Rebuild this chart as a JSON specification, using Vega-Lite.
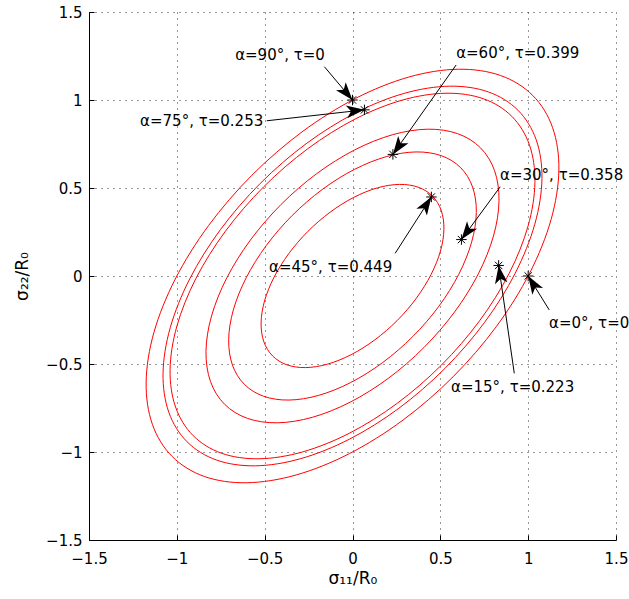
{
"$schema": "https://vega.github.io/schema/vega-lite/v6.json",
"width": 527, "height": 528,
"autosize": {"type": "none"},
"padding": {"left": 89, "top": 12, "right": 13, "bottom": 59},
"background": "white",
"config": {"view": {"stroke": null}, "font": "DejaVu Sans"},
"datasets": {
"ell": [
{"e":0,"o":0,"x":1.026,"y":1.026},{"e":0,"o":1,"x":1.1392,"y":0.8428},{"e":0,"o":2,"x":1.1748,"y":0.6022},{"e":0,"o":3,"x":1.1304,"y":0.3206},{"e":0,"o":4,"x":1.0089,"y":0.0171},{"e":0,"o":5,"x":0.8186,"y":-0.2876},{"e":0,"o":6,"x":0.5726,"y":-0.5726},{"e":0,"o":7,"x":0.2876,"y":-0.8186},{"e":0,"o":8,"x":-0.0171,"y":-1.0089},{"e":0,"o":9,"x":-0.3206,"y":-1.1304},{"e":0,"o":10,"x":-0.6022,"y":-1.1748},{"e":0,"o":11,"x":-0.8428,"y":-1.1392},{"e":0,"o":12,"x":-1.026,"y":-1.026},{"e":0,"o":13,"x":-1.1392,"y":-0.8428},{"e":0,"o":14,"x":-1.1748,"y":-0.6022},{"e":0,"o":15,"x":-1.1304,"y":-0.3206},{"e":0,"o":16,"x":-1.0089,"y":-0.0171},{"e":0,"o":17,"x":-0.8186,"y":0.2876},{"e":0,"o":18,"x":-0.5726,"y":0.5726},{"e":0,"o":19,"x":-0.2876,"y":0.8186},{"e":0,"o":20,"x":0.0171,"y":1.0089},{"e":0,"o":21,"x":0.3206,"y":1.1304},{"e":0,"o":22,"x":0.6022,"y":1.1748},{"e":0,"o":23,"x":0.8428,"y":1.1392},
{"e":1,"o":0,"x":0.9419,"y":0.9419},{"e":1,"o":1,"x":1.0458,"y":0.7737},{"e":1,"o":2,"x":1.0785,"y":0.5528},{"e":1,"o":3,"x":1.0377,"y":0.2943},{"e":1,"o":4,"x":0.9262,"y":0.0157},{"e":1,"o":5,"x":0.7515,"y":-0.264},{"e":1,"o":6,"x":0.5256,"y":-0.5256},{"e":1,"o":7,"x":0.264,"y":-0.7515},{"e":1,"o":8,"x":-0.0157,"y":-0.9262},{"e":1,"o":9,"x":-0.2943,"y":-1.0377},{"e":1,"o":10,"x":-0.5528,"y":-1.0785},{"e":1,"o":11,"x":-0.7737,"y":-1.0458},{"e":1,"o":12,"x":-0.9419,"y":-0.9419},{"e":1,"o":13,"x":-1.0458,"y":-0.7737},{"e":1,"o":14,"x":-1.0785,"y":-0.5528},{"e":1,"o":15,"x":-1.0377,"y":-0.2943},{"e":1,"o":16,"x":-0.9262,"y":-0.0157},{"e":1,"o":17,"x":-0.7515,"y":0.264},{"e":1,"o":18,"x":-0.5256,"y":0.5256},{"e":1,"o":19,"x":-0.264,"y":0.7515},{"e":1,"o":20,"x":0.0157,"y":0.9262},{"e":1,"o":21,"x":0.2943,"y":1.0377},{"e":1,"o":22,"x":0.5528,"y":1.0785},{"e":1,"o":23,"x":0.7737,"y":1.0458},
{"e":2,"o":0,"x":0.907,"y":0.907},{"e":2,"o":1,"x":1.0071,"y":0.745},{"e":2,"o":2,"x":1.0385,"y":0.5323},{"e":2,"o":3,"x":0.9993,"y":0.2834},{"e":2,"o":4,"x":0.8919,"y":0.0151},{"e":2,"o":5,"x":0.7236,"y":-0.2542},{"e":2,"o":6,"x":0.5062,"y":-0.5062},{"e":2,"o":7,"x":0.2542,"y":-0.7236},{"e":2,"o":8,"x":-0.0151,"y":-0.8919},{"e":2,"o":9,"x":-0.2834,"y":-0.9993},{"e":2,"o":10,"x":-0.5323,"y":-1.0385},{"e":2,"o":11,"x":-0.745,"y":-1.0071},{"e":2,"o":12,"x":-0.907,"y":-0.907},{"e":2,"o":13,"x":-1.0071,"y":-0.745},{"e":2,"o":14,"x":-1.0385,"y":-0.5323},{"e":2,"o":15,"x":-0.9993,"y":-0.2834},{"e":2,"o":16,"x":-0.8919,"y":-0.0151},{"e":2,"o":17,"x":-0.7236,"y":0.2542},{"e":2,"o":18,"x":-0.5062,"y":0.5062},{"e":2,"o":19,"x":-0.2542,"y":0.7236},{"e":2,"o":20,"x":0.0151,"y":0.8919},{"e":2,"o":21,"x":0.2834,"y":0.9993},{"e":2,"o":22,"x":0.5323,"y":1.0385},{"e":2,"o":23,"x":0.745,"y":1.0071},
{"e":3,"o":0,"x":0.7285,"y":0.7285},{"e":3,"o":1,"x":0.8088,"y":0.5984},{"e":3,"o":2,"x":0.8341,"y":0.4276},{"e":3,"o":3,"x":0.8026,"y":0.2276},{"e":3,"o":4,"x":0.7163,"y":0.0121},{"e":3,"o":5,"x":0.5812,"y":-0.2042},{"e":3,"o":6,"x":0.4065,"y":-0.4065},{"e":3,"o":7,"x":0.2042,"y":-0.5812},{"e":3,"o":8,"x":-0.0121,"y":-0.7163},{"e":3,"o":9,"x":-0.2276,"y":-0.8026},{"e":3,"o":10,"x":-0.4276,"y":-0.8341},{"e":3,"o":11,"x":-0.5984,"y":-0.8088},{"e":3,"o":12,"x":-0.7285,"y":-0.7285},{"e":3,"o":13,"x":-0.8088,"y":-0.5984},{"e":3,"o":14,"x":-0.8341,"y":-0.4276},{"e":3,"o":15,"x":-0.8026,"y":-0.2276},{"e":3,"o":16,"x":-0.7163,"y":-0.0121},{"e":3,"o":17,"x":-0.5812,"y":0.2042},{"e":3,"o":18,"x":-0.4065,"y":0.4065},{"e":3,"o":19,"x":-0.2042,"y":0.5812},{"e":3,"o":20,"x":0.0121,"y":0.7163},{"e":3,"o":21,"x":0.2276,"y":0.8026},{"e":3,"o":22,"x":0.4276,"y":0.8341},{"e":3,"o":23,"x":0.5984,"y":0.8088},
{"e":4,"o":0,"x":0.6156,"y":0.6156},{"e":4,"o":1,"x":0.6835,"y":0.5057},{"e":4,"o":2,"x":0.7049,"y":0.3613},{"e":4,"o":3,"x":0.6782,"y":0.1924},{"e":4,"o":4,"x":0.6053,"y":0.0103},{"e":4,"o":5,"x":0.4912,"y":-0.1726},{"e":4,"o":6,"x":0.3436,"y":-0.3436},{"e":4,"o":7,"x":0.1726,"y":-0.4912},{"e":4,"o":8,"x":-0.0103,"y":-0.6053},{"e":4,"o":9,"x":-0.1924,"y":-0.6782},{"e":4,"o":10,"x":-0.3613,"y":-0.7049},{"e":4,"o":11,"x":-0.5057,"y":-0.6835},{"e":4,"o":12,"x":-0.6156,"y":-0.6156},{"e":4,"o":13,"x":-0.6835,"y":-0.5057},{"e":4,"o":14,"x":-0.7049,"y":-0.3613},{"e":4,"o":15,"x":-0.6782,"y":-0.1924},{"e":4,"o":16,"x":-0.6053,"y":-0.0103},{"e":4,"o":17,"x":-0.4912,"y":0.1726},{"e":4,"o":18,"x":-0.3436,"y":0.3436},{"e":4,"o":19,"x":-0.1726,"y":0.4912},{"e":4,"o":20,"x":0.0103,"y":0.6053},{"e":4,"o":21,"x":0.1924,"y":0.6782},{"e":4,"o":22,"x":0.3613,"y":0.7049},{"e":4,"o":23,"x":0.5057,"y":0.6835},
{"e":5,"o":0,"x":0.4545,"y":0.4545},{"e":5,"o":1,"x":0.5047,"y":0.3734},{"e":5,"o":2,"x":0.5204,"y":0.2668},{"e":5,"o":3,"x":0.5008,"y":0.142},{"e":5,"o":4,"x":0.4469,"y":0.0076},{"e":5,"o":5,"x":0.3626,"y":-0.1274},{"e":5,"o":6,"x":0.2537,"y":-0.2537},{"e":5,"o":7,"x":0.1274,"y":-0.3626},{"e":5,"o":8,"x":-0.0076,"y":-0.4469},{"e":5,"o":9,"x":-0.142,"y":-0.5008},{"e":5,"o":10,"x":-0.2668,"y":-0.5204},{"e":5,"o":11,"x":-0.3734,"y":-0.5047},{"e":5,"o":12,"x":-0.4545,"y":-0.4545},{"e":5,"o":13,"x":-0.5047,"y":-0.3734},{"e":5,"o":14,"x":-0.5204,"y":-0.2668},{"e":5,"o":15,"x":-0.5008,"y":-0.142},{"e":5,"o":16,"x":-0.4469,"y":-0.0076},{"e":5,"o":17,"x":-0.3626,"y":0.1274},{"e":5,"o":18,"x":-0.2537,"y":0.2537},{"e":5,"o":19,"x":-0.1274,"y":0.3626},{"e":5,"o":20,"x":0.0076,"y":0.4469},{"e":5,"o":21,"x":0.142,"y":0.5008},{"e":5,"o":22,"x":0.2668,"y":0.5204},{"e":5,"o":23,"x":0.3734,"y":0.5047}
],
"ann": [
{"t":"α=90°, τ=0","tx":-0.668,"ty":1.256,"ax":-0.16,"ay":1.189,"sx":0,"sy":1},
{"t":"α=75°, τ=0.253","tx":-1.209,"ty":0.881,"ax":-0.488,"ay":0.882,"sx":0.068,"sy":0.944},
{"t":"α=60°, τ=0.399","tx":0.59,"ty":1.267,"ax":0.59,"ay":1.199,"sx":0.23,"sy":0.691},
{"t":"α=30°, τ=0.358","tx":0.84,"ty":0.574,"ax":0.841,"ay":0.507,"sx":0.62,"sy":0.207},
{"t":"α=45°, τ=0.449","tx":-0.475,"ty":0.051,"ax":0.243,"ay":0.129,"sx":0.449,"sy":0.449},
{"t":"α=0°, τ=0","tx":1.119,"ty":-0.267,"ax":1.12,"ay":-0.193,"sx":1,"sy":0},
{"t":"α=15°, τ=0.223","tx":0.561,"ty":-0.631,"ax":0.921,"ay":-0.553,"sx":0.832,"sy":0.06}
]
},
"layer": [
{
"data": {"name": "ell"},
"mark": {"type": "line", "color": "#ff0000", "strokeWidth": 1, "interpolate": "cardinal-closed"},
"encoding": {
"x": {"field": "x", "type": "quantitative", "scale": {"domain": [-1.5, 1.5], "nice": false, "zero": false},
"axis": {"title": "σ₁₁/R₀", "values": [-1.5, -1, -0.5, 0, 0.5, 1, 1.5], "format": "~g", "grid": true, "gridDash": [1, 5], "gridColor": "#000", "gridOpacity": 0.8, "domainColor": "#000", "tickColor": "#000", "tickSize": -5, "labelFlush": false, "labelOverlap": false, "labelFont": "DejaVu Sans", "labelFontSize": 15, "labelColor": "#000", "labelPadding": 16, "titleFont": "DejaVu Sans", "titleFontSize": 17, "titleFontWeight": "normal", "titleColor": "#000", "titleX": 263.4, "titleY": 38, "titleBaseline": "middle"}},
"y": {"field": "y", "type": "quantitative", "scale": {"domain": [-1.5, 1.5], "nice": false, "zero": false},
"axis": {"title": "σ₂₂/R₀", "values": [-1.5, -1, -0.5, 0, 0.5, 1, 1.5], "format": "~g", "grid": true, "gridDash": [1, 5], "gridColor": "#000", "gridOpacity": 0.8, "domainColor": "#000", "tickColor": "#000", "tickSize": -5, "labelFlush": false, "labelOverlap": false, "labelFont": "DejaVu Sans", "labelFontSize": 15, "labelColor": "#000", "labelPadding": 12, "titleFont": "DejaVu Sans", "titleFontSize": 17, "titleFontWeight": "normal", "titleColor": "#000", "titleX": -67, "titleY": 264, "titleBaseline": "middle", "titleAngle": -90}},
"detail": {"field": "e", "type": "nominal"},
"order": {"field": "o", "type": "quantitative"}
}
},
{
"data": {"name": "ann"},
"mark": {"type": "rule", "color": "#000", "strokeWidth": 1},
"encoding": {
"x": {"field": "ax", "type": "quantitative"},
"y": {"field": "ay", "type": "quantitative"},
"x2": {"field": "sx"},
"y2": {"field": "sy"}
}
},
{
"data": {"name": "ann"},
"transform": [{"calculate": "atan2(-(datum.sy - datum.ay), datum.sx - datum.ax) * 180 / PI", "as": "ang"}],
"mark": {"type": "point", "shape": "M0,0L-1,-0.35L-0.75,0L-1,0.35Z", "filled": true, "color": "#000", "size": 1300, "opacity": 1, "strokeWidth": 0},
"encoding": {
"x": {"field": "sx", "type": "quantitative"},
"y": {"field": "sy", "type": "quantitative"},
"angle": {"field": "ang", "type": "quantitative", "scale": null}
}
},
{
"data": {"name": "ann"},
"mark": {"type": "point", "shape": "M-1,0L1,0M0,-1L0,1M-0.7,-0.7L0.7,0.7M-0.7,0.7L0.7,-0.7", "filled": false, "color": "#000", "size": 110, "strokeWidth": 1, "opacity": 1},
"encoding": {
"x": {"field": "sx", "type": "quantitative"},
"y": {"field": "sy", "type": "quantitative"}
}
},
{
"data": {"name": "ann"},
"mark": {"type": "text", "align": "left", "baseline": "middle", "font": "DejaVu Sans", "fontSize": 15, "color": "#000"},
"encoding": {
"x": {"field": "tx", "type": "quantitative"},
"y": {"field": "ty", "type": "quantitative"},
"text": {"field": "t"}
}
}
]
}
